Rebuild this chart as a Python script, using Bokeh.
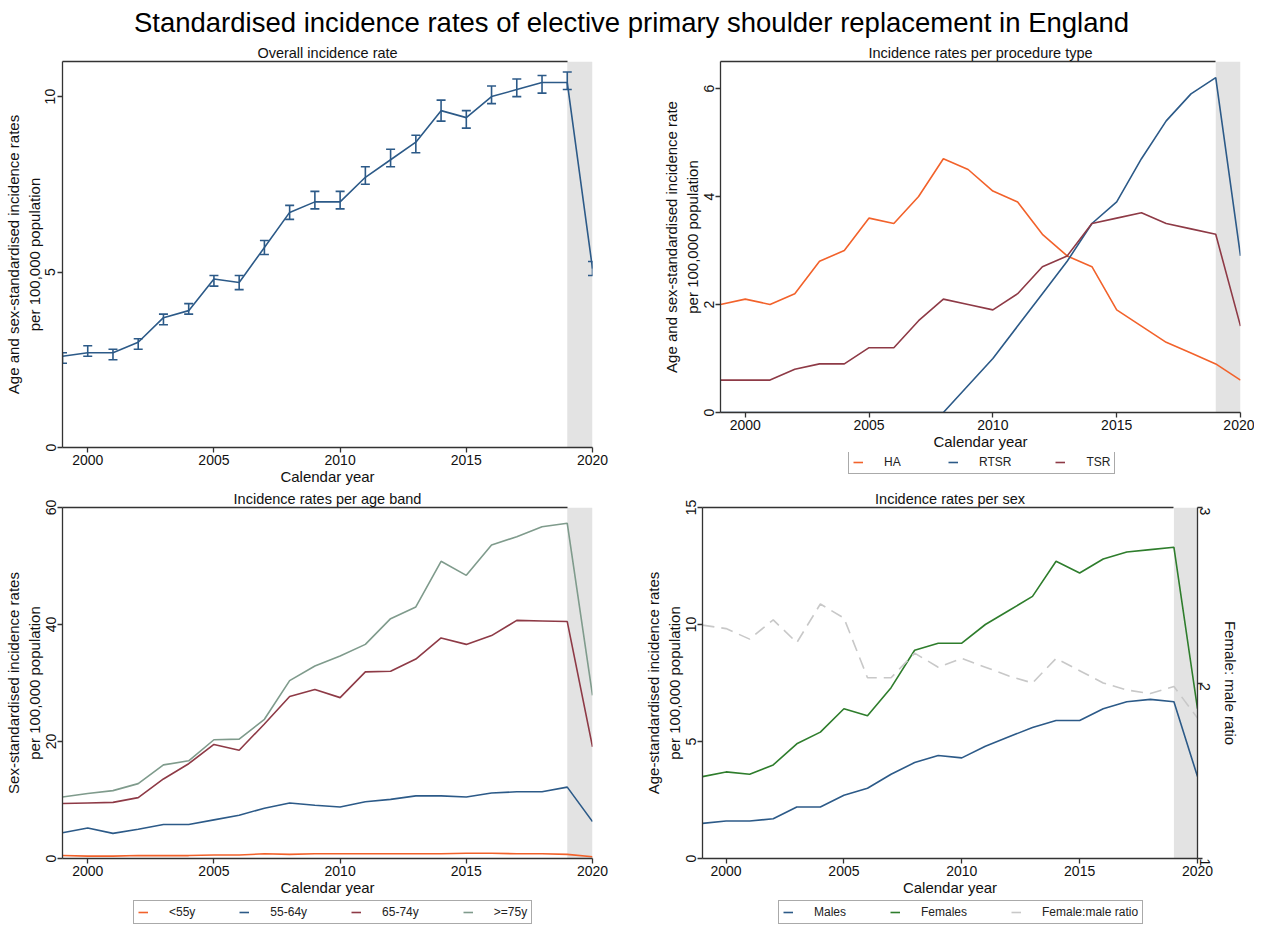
import math
from bokeh.plotting import figure
from bokeh.models import (ColumnDataSource, BoxAnnotation, Whisker, TeeHead, Range1d,
                          LinearAxis, Legend, LegendItem, FixedTicker, Plot, Label, Line)
from bokeh.layouts import column, row
from bokeh.embed import file_html
from bokeh.resources import INLINE

# ---------------- data ----------------
years = list(range(1999, 2021))
x_ticks = [2000, 2005, 2010, 2015, 2020]

overall = [2.6, 2.7, 2.7, 3.0, 3.7, 3.9, 4.8, 4.7, 5.7, 6.7, 7.0, 7.0, 7.7, 8.2, 8.7, 9.6, 9.4, 10.0, 10.2, 10.4, 10.4, 5.1]
overall_lo = [2.4, 2.6, 2.5, 2.8, 3.5, 3.8, 4.6, 4.5, 5.5, 6.5, 6.8, 6.8, 7.5, 8.0, 8.4, 9.3, 9.1, 9.8, 10.0, 10.1, 10.2, 4.9]
overall_hi = [2.7, 2.9, 2.8, 3.1, 3.8, 4.1, 4.9, 4.9, 5.9, 6.9, 7.3, 7.3, 8.0, 8.5, 8.9, 9.9, 9.6, 10.3, 10.5, 10.6, 10.7, 5.3]

ha = [2.0, 2.1, 2.0, 2.2, 2.8, 3.0, 3.6, 3.5, 4.0, 4.7, 4.5, 4.1, 3.9, 3.3, 2.9, 2.7, 1.9, 1.6, 1.3, 1.1, 0.9, 0.6]
rtsr = [0, 0, 0, 0, 0, 0, 0, 0, 0, 0, 0.5, 1.0, 1.6, 2.2, 2.8, 3.5, 3.9, 4.7, 5.4, 5.9, 6.2, 2.9]
tsr = [0.6, 0.6, 0.6, 0.8, 0.9, 0.9, 1.2, 1.2, 1.7, 2.1, 2.0, 1.9, 2.2, 2.7, 2.9, 3.5, 3.6, 3.7, 3.5, 3.4, 3.3, 1.6]

age_lt55 = [0.5, 0.4, 0.4, 0.5, 0.5, 0.5, 0.6, 0.6, 0.8, 0.7, 0.8, 0.8, 0.8, 0.8, 0.8, 0.8, 0.9, 0.9, 0.8, 0.8, 0.7, 0.3]
age_55_64 = [4.4, 5.2, 4.3, 5.0, 5.8, 5.8, 6.6, 7.4, 8.6, 9.5, 9.1, 8.8, 9.7, 10.1, 10.7, 10.7, 10.5, 11.2, 11.4, 11.4, 12.2, 6.3]
age_65_74 = [9.4, 9.5, 9.6, 10.4, 13.6, 16.2, 19.5, 18.5, 23.0, 27.7, 28.9, 27.5, 31.9, 32.0, 34.1, 37.7, 36.6, 38.1, 40.7, 40.6, 40.5, 19.1]
age_ge75 = [10.5, 11.1, 11.6, 12.8, 16.0, 16.7, 20.3, 20.4, 23.8, 30.4, 32.9, 34.6, 36.6, 41.0, 43.0, 50.8, 48.4, 53.6, 55.0, 56.7, 57.3, 27.9]

males = [1.5, 1.6, 1.6, 1.7, 2.2, 2.2, 2.7, 3.0, 3.6, 4.1, 4.4, 4.3, 4.8, 5.2, 5.6, 5.9, 5.9, 6.4, 6.7, 6.8, 6.7, 3.5]
females = [3.5, 3.7, 3.6, 4.0, 4.9, 5.4, 6.4, 6.1, 7.3, 8.9, 9.2, 9.2, 10.0, 10.6, 11.2, 12.7, 12.2, 12.8, 13.1, 13.2, 13.3, 6.4]
ratio = [2.33, 2.31, 2.25, 2.36, 2.23, 2.45, 2.37, 2.03, 2.03, 2.17, 2.09, 2.14, 2.09, 2.04, 2.0, 2.14, 2.07, 2.0, 1.96, 1.94, 1.98, 1.80]
ratio_ticks = [1, 2, 3]

main_title = "Standardised incidence rates of elective primary shoulder replacement in England"

# ---------------- style ----------------
FONT = "Liberation Sans"
AXIS_COL = "#333333"
TXT_COL = "#111111"
BAND_COL = "#e3e3e3"
C_NAVY = "#2c5a88"
C_ORANGE = "#f2622b"
C_MAROON = "#8e3a46"
C_SAGE = "#7f9b8c"
C_GREEN = "#2e7d2c"
C_RATIO = "#c8c8c8"
LW = 1.6


def style_axis(ax, label):
    ax.axis_label = label
    ax.axis_label_text_font = FONT
    ax.axis_label_text_font_size = "15px"
    ax.axis_label_text_font_style = "normal"
    ax.axis_label_text_color = TXT_COL
    ax.axis_label_standoff = 0
    ax.major_label_text_font = FONT
    ax.major_label_text_font_size = "14px"
    ax.major_label_text_color = TXT_COL
    ax.major_label_standoff = 2
    ax.axis_line_color = AXIS_COL
    ax.axis_line_width = 1.3
    ax.major_tick_line_color = AXIS_COL
    ax.major_tick_line_width = 1.3
    ax.major_tick_out = 5
    ax.major_tick_in = 0
    ax.minor_tick_line_color = None


def make_fig(title, ylabel, yend, yticks, fw, fh, bl, br, bt, bb):
    p = figure(frame_width=fw, frame_height=fh,
               min_border_left=bl, min_border_right=br,
               min_border_top=bt, min_border_bottom=bb,
               x_range=Range1d(years[0], years[-1]),
               y_range=Range1d(0, yend),
               output_backend="svg", toolbar_location=None,
               title=title)
    p.title.align = "center"
    p.title.text_font = FONT
    p.title.text_font_size = "14.5px"
    p.title.text_font_style = "normal"
    p.title.text_color = TXT_COL
    p.title.standoff = 1
    p.outline_line_color = None
    p.grid.visible = False
    p.background_fill_color = "white"
    p.border_fill_color = "white"
    p.xaxis.ticker = FixedTicker(ticks=x_ticks)
    p.yaxis.ticker = FixedTicker(ticks=yticks)
    style_axis(p.xaxis[0], "Calendar year")
    style_axis(p.yaxis[0], ylabel)
    p.yaxis.major_label_orientation = "vertical"
    # top frame line, ending where the shaded year begins
    top = LinearAxis(ticker=FixedTicker(ticks=[]), bounds=(years[0], years[-2]),
                     major_tick_out=0, major_label_standoff=0,
                     axis_line_color=AXIS_COL, axis_line_width=1.3,
                     major_label_text_font_size="0px")
    p.add_layout(top, "above")
    band = BoxAnnotation(left=years[-2], right=years[-1], fill_color=BAND_COL,
                         fill_alpha=1.0, line_color=None, level="underlay")
    p.add_layout(band)
    return p


def legend_strip(width, height, entries, loc):
    """A small plot that only carries the legend shown below a panel."""
    lp = Plot(width=width, height=height, min_border=0, toolbar_location=None,
              output_backend="svg", outline_line_color=None, title=None,
              x_range=Range1d(0, 1), y_range=Range1d(0, 1))
    items = []
    for label, color in entries:
        src = ColumnDataSource(dict(x=[float("nan")], y=[float("nan")]))
        r = lp.add_glyph(src, Line(x="x", y="y", line_color=color, line_width=LW))
        items.append(LegendItem(label=label, renderers=[r]))
    leg = Legend(items=items, orientation="horizontal", location=loc,
                 border_line_color="#555555", border_line_width=1.3,
                 glyph_width=10, glyph_height=14, label_height=14,
                 label_standoff=21, spacing=44, padding=4, margin=0,
                 label_text_font=FONT, label_text_font_size="12px",
                 label_text_color="#222222", background_fill_color="white",
                 background_fill_alpha=1.0)
    lp.add_layout(leg)
    return lp


# ---- panel 1: overall ----
p1 = make_fig("Overall incidence rate",
              "Age and sex-standardised incidence rates\nper 100,000 population",
              11.0, [0, 5, 10], 530, 386, 62, 38, 21, 40)
src1 = ColumnDataSource(dict(x=years, y=overall, lo=overall_lo, hi=overall_hi))
p1.line("x", "y", source=src1, line_color=C_NAVY, line_width=LW)
wh = Whisker(base="x", upper="hi", lower="lo", source=src1,
             line_color=C_NAVY, line_width=LW, level="glyph",
             upper_head=TeeHead(size=9, line_color=C_NAVY, line_width=LW),
             lower_head=TeeHead(size=9, line_color=C_NAVY, line_width=LW))
p1.add_layout(wh)

# ---- panel 2: procedure type ----
p2 = make_fig("Incidence rates per procedure type",
              "Age and sex-standardised incidence rate\nper 100,000 population",
              6.5, [0, 2, 4, 6], 520, 351, 90, 14, 21, 40)
p2.line(years, ha, line_color=C_ORANGE, line_width=LW)
p2.line(years, rtsr, line_color=C_NAVY, line_width=LW)
p2.line(years, tsr, line_color=C_MAROON, line_width=LW)
leg2 = legend_strip(624, 35, [("HA", C_ORANGE), ("RTSR", C_NAVY), ("TSR", C_MAROON)],
                    (128, 13))

# ---- panel 3: age band ----
p3 = make_fig("Incidence rates per age band",
              "Sex-standardised incidence rates\nper 100,000 population",
              60, [0, 20, 40, 60], 530, 351, 62, 38, 20, 40)
p3.line(years, age_lt55, line_color=C_ORANGE, line_width=LW)
p3.line(years, age_55_64, line_color=C_NAVY, line_width=LW)
p3.line(years, age_65_74, line_color=C_MAROON, line_width=LW)
p3.line(years, age_ge75, line_color=C_SAGE, line_width=LW)
leg3 = legend_strip(630, 29, [("<55y", C_ORANGE), ("55-64y", C_NAVY),
                              ("65-74y", C_MAROON), (">=75y", C_SAGE)], (71, 3))

# ---- panel 4: sex ----
p4 = make_fig("Incidence rates per sex",
              "Age-standardised incidence rates\nper 100,000 population",
              15, [0, 5, 10, 15], 495, 351, 72, 57, 20, 40)
p4.extra_y_ranges = {"ratio": Range1d(ratio_ticks[0], ratio_ticks[-1])}
rax = LinearAxis(y_range_name="ratio", ticker=FixedTicker(ticks=ratio_ticks))
style_axis(rax, "Female: male ratio")
rax.major_label_orientation = -math.pi / 2
rax.axis_label_standoff = 4
p4.add_layout(rax, "right")

p4.line(years, males, line_color=C_NAVY, line_width=LW)
p4.line(years, females, line_color=C_GREEN, line_width=LW)
p4.line(years, ratio, line_color=C_RATIO, line_width=LW, line_dash="12 7",
        y_range_name="ratio")
leg4 = legend_strip(624, 29, [("Males", C_NAVY), ("Females", C_GREEN),
                              ("Female:male ratio", C_RATIO)], (76, 3))

# ---- main title strip ----
head = Plot(width=1254, height=40, min_border=0, toolbar_location=None, title=None,
            output_backend="svg", outline_line_color=None,
            x_range=Range1d(0, 1), y_range=Range1d(0, 1))
head.add_layout(Label(x=631, y=18, x_units="screen", y_units="screen", text=main_title,
                      text_align="center", text_baseline="middle",
                      text_font=FONT, text_font_size="27.5px", text_color="#000000"))

layout = column(head,
                row(p1, column(p2, leg2)),
                row(column(p3, leg3), column(p4, leg4)))

with open("out.html", "w") as f:
    f.write(file_html(layout, INLINE, title="Shoulder replacement incidence"))
